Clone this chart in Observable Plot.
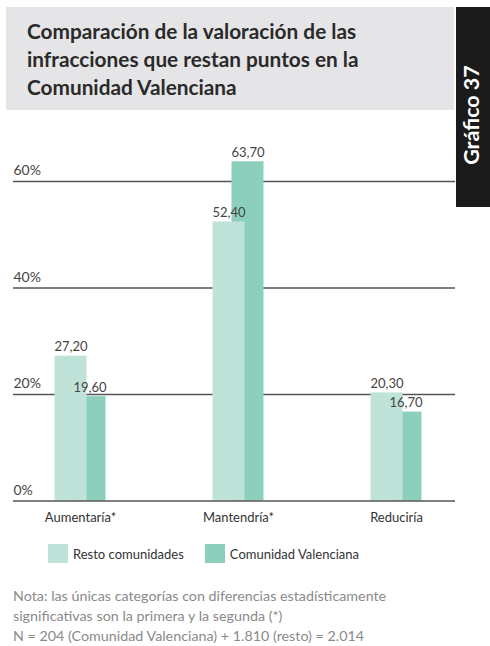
<!DOCTYPE html>
<html>
<head>
<meta charset="utf-8">
<script src="https://cdn.jsdelivr.net/npm/d3@7"></script>
<script src="https://cdn.jsdelivr.net/npm/@observablehq/plot@0.6"></script>
<style>
  html, body { margin: 0; padding: 0; background: #fff; }
  #root { position: relative; width: 490px; height: 646px; overflow: hidden; font-family: Lato, "Open Sans", sans-serif; }
  #titlebox { position: absolute; left: 6px; top: 7px; width: 448px; height: 103px; background: #e5e5e7; }
  #title { position: absolute; left: 21px; top: 10.3px; margin: 0; font-size: 20.8px; font-weight: 700; line-height: 28px; color: #2a2a2a; }
  #tab { position: absolute; left: 456px; top: 7px; width: 34px; height: 200px; background: #1b1b1b; }
  #tabtext { position: absolute; left: -83px; top: 83px; width: 200px; height: 34px; line-height: 30px; transform: rotate(-90deg); color: #fff; font-weight: 700; font-size: 21.5px; text-align: center; box-sizing: border-box; padding-right: 16px; }
  #chart { position: absolute; left: 0; top: 140px; }
  #legend { position: absolute; left: 48px; top: 544px; display: flex; align-items: center; font-size: 13px; color: #333; }
  .sw { width: 20px; height: 19px; margin-right: 5px; }
  .item { display: flex; align-items: center; }
  #note { position: absolute; left: 13px; top: 586px; font-size: 14.3px; line-height: 20px; color: #8a8a8a; white-space: nowrap; }
</style>
</head>
<body>
<div id="root">
  <div id="titlebox"><p id="title"></p></div>
  <div id="tab"><div id="tabtext"></div></div>
  <div id="chart"></div>
  <div id="legend"></div>
  <div id="note"></div>
</div>
<script>
const titleLines = ["Comparación de la valoración de las", "infracciones que restan puntos en la", "Comunidad Valenciana"];
const tabLabel = "Gráfico 37";
const categories = ["Aumentaría*", "Mantendría*", "Reduciría"];
const seriesNames = ["Resto comunidades", "Comunidad Valenciana"];
const restoValues = [27.2, 52.4, 20.3];
const valencianaValues = [19.6, 63.7, 16.7];
const yTicks = [0, 20, 40, 60];
const noteLines = [
  "Nota: las únicas categorías con diferencias estadísticamente",
  "significativas son la primera y la segunda (*)",
  "N = 204 (Comunidad Valenciana) + 1.810 (resto) = 2.014"
];
const colors = ["#bfe3d9", "#8dcfbd"];

document.getElementById("title").innerHTML = titleLines.join("<br>");
document.getElementById("tabtext").textContent = tabLabel;
document.getElementById("note").innerHTML = noteLines.join("<br>");

const legend = document.getElementById("legend");
seriesNames.forEach((name, i) => {
  const item = document.createElement("div");
  item.className = "item";
  if (i > 0) item.style.marginLeft = "21px";
  const sw = document.createElement("div");
  sw.className = "sw";
  sw.style.background = colors[i];
  const label = document.createElement("span");
  label.textContent = name;
  item.appendChild(sw);
  item.appendChild(label);
  legend.appendChild(item);
});

const resto = categories.map((c, i) => ({cat: c, value: restoValues[i]}));
const valenciana = categories.map((c, i) => ({cat: c, value: valencianaValues[i]}));
const fmt = v => v.toFixed(2).replace(".", ",");

const chart = Plot.plot({
  width: 490,
  height: 400,
  marginLeft: 13,
  marginRight: 35,
  marginTop: 0,
  marginBottom: 0,
  style: {fontFamily: "Lato, 'Open Sans', sans-serif", background: "transparent"},
  x: {domain: categories, range: [64, 412], paddingInner: 0.8, paddingOuter: 0, axis: null},
  y: {domain: [0, 60], range: [360.5, 41], axis: null},
  marks: [
    Plot.ruleY(yTicks.filter(d => d > 0), {stroke: "#555", strokeWidth: 1.4}),
    Plot.barY(valenciana, {x: "cat", y: "value", fill: colors[1], dx: 9.5}),
    Plot.barY(resto, {x: "cat", y: "value", fill: colors[0], dx: -9.5}),
    Plot.ruleY([0], {stroke: "#555", strokeWidth: 1.4}),
    Plot.text(yTicks, {y: d => d, text: d => d + "%", frameAnchor: "left", textAnchor: "start", dy: -10.5, fontSize: 14, fill: "#444"}),
    Plot.text(resto, {x: "cat", y: "value", text: d => fmt(d.value), dx: -9.5, dy: -9, fontSize: 13, fill: "#444"}),
    Plot.text(valenciana, {x: "cat", y: "value", text: d => fmt(d.value), dx: 9.5, dy: -9, fontSize: 13, fill: "#444"}),
    Plot.text(categories, {x: d => d, y: () => 0, text: d => d, dy: 16.5, fontSize: 13, fill: "#333"})
  ]
});
document.getElementById("chart").appendChild(chart);
</script>
</body>
</html>
